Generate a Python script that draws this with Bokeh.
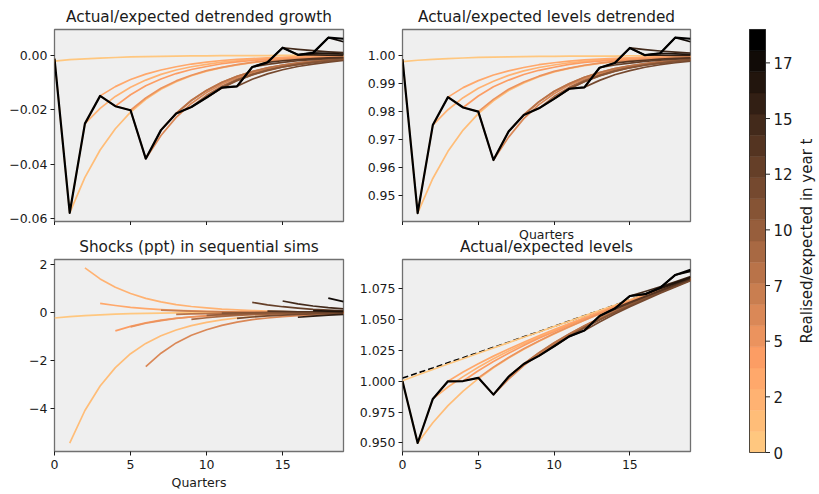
import math
from bokeh.plotting import figure
from bokeh.models import Range1d, FixedTicker, Title
from bokeh.layouts import row, column
from bokeh.embed import file_html
from bokeh.resources import INLINE
from bokeh.core.properties import value

# ---------------- data ----------------
QUARTERS = list(range(20))
X_TICKS = [0, 5, 10, 15]

# Panel 1: actual/expected detrended growth
ACTUAL_GROWTH = [-0.0012, -0.0579, -0.0251, -0.0149, -0.0187, -0.0202, -0.0380, -0.0275, -0.0214, -0.0190,
                 -0.0155, -0.0119, -0.0114, -0.0043, -0.0026, 0.0028, 0.0002, 0.0009, 0.0065, 0.0061]
GROWTH_SIMS = [
    [-0.0021, -0.0016, -0.0013, -0.0010, -0.0008, -0.0006, -0.0005, -0.0004, -0.0003, -0.0002, -0.0002, -0.0001, -0.0001, -0.0001, -0.0001, 0.0, 0.0, 0.0, 0.0, 0.0],
    [-0.0012, -0.0579, -0.0449, -0.0348, -0.0270, -0.0209, -0.0162, -0.0125, -0.0097, -0.0075, -0.0058, -0.0045, -0.0035, -0.0027, -0.0021, -0.0016, -0.0013, -0.0010, -0.0008, -0.0006],
    [-0.0579, -0.0251, -0.0195, -0.0151, -0.0117, -0.0091, -0.0070, -0.0054, -0.0042, -0.0033, -0.0025, -0.0020, -0.0015, -0.0012, -0.0009, -0.0007, -0.0005, -0.0004, -0.0003],
    [-0.0251, -0.0149, -0.0115, -0.0089, -0.0069, -0.0054, -0.0042, -0.0032, -0.0025, -0.0019, -0.0015, -0.0012, -0.0009, -0.0007, -0.0005, -0.0004, -0.0003, -0.0003],
    [-0.0149, -0.0187, -0.0145, -0.0112, -0.0087, -0.0067, -0.0052, -0.0041, -0.0031, -0.0024, -0.0019, -0.0015, -0.0011, -0.0009, -0.0007, -0.0005, -0.0004],
    [-0.0187, -0.0202, -0.0157, -0.0121, -0.0094, -0.0073, -0.0056, -0.0044, -0.0034, -0.0026, -0.0020, -0.0016, -0.0012, -0.0009, -0.0007, -0.0006],
    [-0.0202, -0.0380, -0.0295, -0.0228, -0.0177, -0.0137, -0.0106, -0.0082, -0.0064, -0.0049, -0.0038, -0.0030, -0.0023, -0.0018, -0.0014],
    [-0.0380, -0.0275, -0.0213, -0.0165, -0.0128, -0.0099, -0.0077, -0.0060, -0.0046, -0.0036, -0.0028, -0.0022, -0.0017, -0.0013],
    [-0.0275, -0.0214, -0.0166, -0.0129, -0.0100, -0.0077, -0.0060, -0.0046, -0.0036, -0.0028, -0.0022, -0.0017, -0.0013],
    [-0.0214, -0.0190, -0.0147, -0.0114, -0.0088, -0.0069, -0.0053, -0.0041, -0.0032, -0.0025, -0.0019, -0.0015],
    [-0.0190, -0.0155, -0.0120, -0.0093, -0.0072, -0.0056, -0.0043, -0.0034, -0.0026, -0.0020, -0.0016],
    [-0.0155, -0.0119, -0.0092, -0.0071, -0.0055, -0.0043, -0.0033, -0.0026, -0.0020, -0.0015],
    [-0.0119, -0.0114, -0.0088, -0.0068, -0.0053, -0.0041, -0.0032, -0.0025, -0.0019],
    [-0.0114, -0.0043, -0.0033, -0.0026, -0.0020, -0.0016, -0.0012, -0.0009],
    [-0.0043, -0.0026, -0.0020, -0.0016, -0.0012, -0.0009, -0.0007],
    [-0.0026, 0.0028, 0.0022, 0.0017, 0.0013, 0.0010],
    [0.0028, 0.0002, 0.0002, 0.0001, 0.0001],
    [0.0002, 0.0009, 0.0007, 0.0005],
    [0.0009, 0.0065, 0.0050],
]

# Panel 2: actual/expected levels detrended
ACTUAL_DETRENDED = [0.9988, 0.9437, 0.9752, 0.9852, 0.9815, 0.9800, 0.9627, 0.9729, 0.9788, 0.9812,
                    0.9846, 0.9882, 0.9887, 0.9957, 0.9974, 1.0028, 1.0002, 1.0009, 1.0065, 1.0061]
DETRENDED_SIMS = [
    [0.9979, 0.9984, 0.9987, 0.9990, 0.9992, 0.9994, 0.9995, 0.9996, 0.9997, 0.9998, 0.9998, 0.9999, 0.9999, 0.9999, 0.9999, 1.0, 1.0, 1.0, 1.0, 1.0],
    [0.9988, 0.9437, 0.9561, 0.9658, 0.9734, 0.9793, 0.9839, 0.9876, 0.9903, 0.9925, 0.9942, 0.9955, 0.9965, 0.9973, 0.9979, 0.9984, 0.9987, 0.9990, 0.9992, 0.9994],
    [0.9437, 0.9752, 0.9807, 0.9850, 0.9884, 0.9909, 0.9930, 0.9946, 0.9958, 0.9967, 0.9975, 0.9980, 0.9985, 0.9988, 0.9991, 0.9993, 0.9995, 0.9996, 0.9997],
    [0.9752, 0.9852, 0.9886, 0.9911, 0.9931, 0.9946, 0.9958, 0.9968, 0.9975, 0.9981, 0.9985, 0.9988, 0.9991, 0.9993, 0.9995, 0.9996, 0.9997, 0.9997],
    [0.9852, 0.9815, 0.9856, 0.9889, 0.9913, 0.9933, 0.9948, 0.9959, 0.9969, 0.9976, 0.9981, 0.9985, 0.9989, 0.9991, 0.9993, 0.9995, 0.9996],
    [0.9815, 0.9800, 0.9844, 0.9880, 0.9906, 0.9927, 0.9944, 0.9956, 0.9966, 0.9974, 0.9980, 0.9984, 0.9988, 0.9991, 0.9993, 0.9994],
    [0.9800, 0.9627, 0.9709, 0.9775, 0.9825, 0.9864, 0.9895, 0.9918, 0.9936, 0.9951, 0.9962, 0.9970, 0.9977, 0.9982, 0.9986],
    [0.9627, 0.9729, 0.9789, 0.9836, 0.9873, 0.9901, 0.9923, 0.9940, 0.9954, 0.9964, 0.9972, 0.9978, 0.9983, 0.9987],
    [0.9729, 0.9788, 0.9835, 0.9872, 0.9900, 0.9923, 0.9940, 0.9954, 0.9964, 0.9972, 0.9978, 0.9983, 0.9987],
    [0.9788, 0.9812, 0.9854, 0.9887, 0.9912, 0.9931, 0.9947, 0.9959, 0.9968, 0.9975, 0.9981, 0.9985],
    [0.9812, 0.9846, 0.9881, 0.9907, 0.9928, 0.9944, 0.9957, 0.9966, 0.9974, 0.9980, 0.9984],
    [0.9846, 0.9882, 0.9908, 0.9929, 0.9945, 0.9957, 0.9967, 0.9974, 0.9980, 0.9985],
    [0.9882, 0.9887, 0.9912, 0.9932, 0.9947, 0.9959, 0.9968, 0.9975, 0.9981],
    [0.9887, 0.9957, 0.9967, 0.9974, 0.9980, 0.9984, 0.9988, 0.9991],
    [0.9957, 0.9974, 0.9980, 0.9984, 0.9988, 0.9991, 0.9993],
    [0.9974, 1.0028, 1.0022, 1.0017, 1.0013, 1.0010],
    [1.0028, 1.0002, 1.0002, 1.0001, 1.0001],
    [1.0002, 1.0009, 1.0007, 1.0005],
    [1.0009, 1.0065, 1.0050],
]

# Panel 3: shocks (ppt) in sequential sims
SHOCK_SIMS = [
    [-0.23, -0.17, -0.13, -0.10, -0.07, -0.05, -0.04, -0.03, -0.02, -0.02, -0.01, -0.01, -0.01, -0.01, 0.0, 0.0, 0.0, 0.0, 0.0, 0.0],
    [-5.45, -4.09, -3.07, -2.30, -1.72, -1.29, -0.97, -0.73, -0.55, -0.41, -0.31, -0.23, -0.17, -0.13, -0.10, -0.07, -0.05, -0.04, -0.03],
    [1.86, 1.40, 1.05, 0.79, 0.59, 0.44, 0.33, 0.25, 0.19, 0.14, 0.11, 0.08, 0.06, 0.04, 0.03, 0.03, 0.02, 0.01],
    [0.38, 0.29, 0.21, 0.16, 0.12, 0.09, 0.07, 0.05, 0.04, 0.03, 0.02, 0.02, 0.01, 0.01, 0.01, 0.01, 0.0],
    [-0.77, -0.58, -0.43, -0.32, -0.24, -0.18, -0.14, -0.10, -0.08, -0.06, -0.04, -0.03, -0.02, -0.02, -0.01, -0.01],
    [-0.60, -0.45, -0.34, -0.25, -0.19, -0.14, -0.11, -0.08, -0.06, -0.05, -0.03, -0.03, -0.02, -0.01, -0.01],
    [-2.26, -1.70, -1.27, -0.95, -0.72, -0.54, -0.40, -0.30, -0.23, -0.17, -0.13, -0.10, -0.07, -0.05],
    [0.10, 0.08, 0.06, 0.04, 0.03, 0.02, 0.02, 0.01, 0.01, 0.01, 0.01, 0.0, 0.0],
    [-0.08, -0.06, -0.05, -0.03, -0.03, -0.02, -0.01, -0.01, -0.01, -0.01, 0.0, 0.0],
    [-0.29, -0.22, -0.16, -0.12, -0.09, -0.07, -0.05, -0.04, -0.03, -0.02, -0.02],
    [-0.12, -0.09, -0.07, -0.05, -0.04, -0.03, -0.02, -0.02, -0.01, -0.01],
    [-0.03, -0.02, -0.02, -0.01, -0.01, -0.01, -0.01, 0.0, 0.0],
    [-0.25, -0.19, -0.14, -0.11, -0.08, -0.06, -0.04, -0.03],
    [0.42, 0.32, 0.24, 0.18, 0.13, 0.10, 0.07],
    [0.06, 0.05, 0.03, 0.03, 0.02, 0.01],
    [0.48, 0.36, 0.27, 0.20, 0.15],
    [-0.20, -0.15, -0.11, -0.08],
    [0.08, 0.06, 0.05],
    [0.60, 0.45],
]

# Panel 4: actual/expected levels
TREND = [1.0025, 1.0066, 1.0107, 1.0149, 1.0190, 1.0232, 1.0274, 1.0316, 1.0359, 1.0401,
         1.0444, 1.0487, 1.0530, 1.0573, 1.0616, 1.0660, 1.0703, 1.0747, 1.0791, 1.0836]
ACTUAL_LEVEL = [1.0000, 0.9499, 0.9856, 0.9999, 1.0001, 1.0027, 0.9891, 1.0036, 1.0139, 1.0205,
                1.0283, 1.0363, 1.0411, 1.0528, 1.0588, 1.0690, 1.0705, 1.0757, 1.0861, 1.0902]
LEVEL_SIMS = [
    [1.0004, 1.0050, 1.0094, 1.0139, 1.0182, 1.0226, 1.0269, 1.0312, 1.0356, 1.0399, 1.0442, 1.0486, 1.0529, 1.0572, 1.0615, 1.0660, 1.0703, 1.0747, 1.0791, 1.0836],
    [1.0000, 0.9499, 0.9663, 0.9802, 0.9919, 1.0020, 1.0109, 1.0188, 1.0259, 1.0323, 1.0383, 1.0440, 1.0493, 1.0544, 1.0594, 1.0643, 1.0689, 1.0736, 1.0782, 1.0829],
    [0.9499, 0.9856, 0.9953, 1.0037, 1.0113, 1.0181, 1.0244, 1.0303, 1.0357, 1.0410, 1.0461, 1.0509, 1.0557, 1.0603, 1.0650, 1.0695, 1.0742, 1.0787, 1.0833],
    [0.9856, 0.9999, 1.0074, 1.0141, 1.0203, 1.0260, 1.0315, 1.0368, 1.0418, 1.0467, 1.0514, 1.0560, 1.0606, 1.0653, 1.0698, 1.0743, 1.0788, 1.0833],
    [0.9999, 1.0001, 1.0085, 1.0160, 1.0226, 1.0290, 1.0347, 1.0401, 1.0454, 1.0505, 1.0553, 1.0600, 1.0648, 1.0693, 1.0739, 1.0786, 1.0832],
    [1.0001, 1.0027, 1.0114, 1.0192, 1.0262, 1.0325, 1.0386, 1.0441, 1.0494, 1.0546, 1.0595, 1.0643, 1.0690, 1.0737, 1.0783, 1.0830],
    [1.0027, 0.9891, 1.0016, 1.0126, 1.0219, 1.0302, 1.0377, 1.0444, 1.0505, 1.0564, 1.0619, 1.0671, 1.0722, 1.0772, 1.0821],
    [0.9891, 1.0036, 1.0140, 1.0230, 1.0311, 1.0383, 1.0449, 1.0510, 1.0567, 1.0622, 1.0673, 1.0723, 1.0773, 1.0822],
    [1.0036, 1.0139, 1.0229, 1.0310, 1.0382, 1.0449, 1.0510, 1.0567, 1.0622, 1.0673, 1.0723, 1.0773, 1.0822],
    [1.0139, 1.0205, 1.0292, 1.0368, 1.0437, 1.0500, 1.0560, 1.0616, 1.0669, 1.0720, 1.0770, 1.0820],
    [1.0205, 1.0283, 1.0362, 1.0432, 1.0497, 1.0557, 1.0614, 1.0667, 1.0719, 1.0769, 1.0819],
    [1.0283, 1.0363, 1.0433, 1.0498, 1.0558, 1.0614, 1.0668, 1.0719, 1.0769, 1.0820],
    [1.0363, 1.0411, 1.0480, 1.0544, 1.0604, 1.0659, 1.0713, 1.0764, 1.0815],
    [1.0411, 1.0528, 1.0581, 1.0632, 1.0682, 1.0730, 1.0778, 1.0826],
    [1.0528, 1.0588, 1.0639, 1.0686, 1.0734, 1.0781, 1.0828],
    [1.0588, 1.0690, 1.0727, 1.0765, 1.0805, 1.0847],
    [1.0690, 1.0705, 1.0749, 1.0792, 1.0837],
    [1.0705, 1.0757, 1.0799, 1.0841],
    [1.0757, 1.0861, 1.0890],
]

G_TICKS = [-0.06, -0.04, -0.02, 0.0]
G_LABELS = ["\u22120.06", "\u22120.04", "\u22120.02", "0.00"]
D_TICKS = [0.95, 0.96, 0.97, 0.98, 0.99, 1.0]
D_LABELS = ["0.95", "0.96", "0.97", "0.98", "0.99", "1.00"]
S_TICKS = [-4, -2, 0, 2]
S_LABELS = ["\u22124", "\u22122", "0", "2"]
L_TICKS = [0.95, 0.975, 1.0, 1.025, 1.05, 1.075]
L_LABELS = ["0.950", "0.975", "1.000", "1.025", "1.050", "1.075"]

# copper_r, 20 bins (sim 0 .. 18, actual = 19)
PALETTE = ["#ffc77f", "#ffbd78", "#ffb272", "#ffa86b", "#fc9d64", "#eb935e", "#da8857",
           "#c97e50", "#b97349", "#a86943", "#975e3c", "#865435", "#75492f", "#653f28",
           "#543421", "#432a1b", "#321f14", "#22150d", "#110b07", "#000000"]
CBAR_MAX = 19
CBAR_TICKS = [0, 2.5, 5, 7.5, 10, 12.5, 15, 17.5]
CBAR_LABELS = ["0", "2", "5", "7", "10", "12", "15", "17"]

# ---------------- styling ----------------
FONT = "DejaVu Sans"
TXT = "#1a1a1a"
TITLE_SIZE = "15.3px"
TICK_SIZE = "12.5px"


def panel(title, width, left, top, bottom, height, yrange, yticks, ylabels, show_x):
    p = figure(width=width, height=height, x_range=Range1d(0, 19), y_range=Range1d(*yrange),
               min_border_left=left, min_border_right=10, min_border_top=top,
               min_border_bottom=bottom, output_backend="svg", toolbar_location=None)
    p.add_layout(Title(text=title, align="center", text_font=FONT, text_font_size=TITLE_SIZE,
                       text_font_style="normal", text_color=TXT, standoff=8), "above")
    p.background_fill_color = "#efefef"
    p.border_fill_color = "white"
    p.outline_line_color = "#707070"
    p.outline_line_width = 1.3
    p.xgrid.visible = False
    p.ygrid.visible = False
    for ax in (p.xaxis[0], p.yaxis[0]):
        ax.axis_line_color = None
        ax.major_tick_line_color = TXT
        ax.major_tick_line_width = 1
        ax.major_tick_out = 4
        ax.major_tick_in = 0
        ax.minor_tick_line_color = None
        ax.major_label_text_font = FONT
        ax.major_label_text_font_size = TICK_SIZE
        ax.major_label_text_color = TXT
        ax.major_label_standoff = 3
    p.xaxis.ticker = FixedTicker(ticks=X_TICKS)
    p.yaxis.ticker = FixedTicker(ticks=yticks)
    p.yaxis.major_label_overrides = dict(zip(yticks, ylabels))
    if show_x:
        p.xaxis.major_label_standoff = 4
    else:
        p.xaxis.major_label_text_font_size = "0px"
        p.xaxis.major_label_text_color = None
        p.xaxis.major_label_standoff = 0
    return p


def draw_sims(p, sims):
    n = len(QUARTERS)
    xs = [QUARTERS[n - len(s):] for s in sims]
    colors = [PALETTE[i] for i in range(len(sims))]
    p.multi_line(xs=xs, ys=sims, line_color=colors, line_width=1.7, line_join="round")


W_L, W_R = 353, 347
H_TOP, H_BOT = 225, 267

p1 = panel("Actual/expected detrended growth", W_L, 54, 29, 4, H_TOP,
           (-0.0611, 0.0095), G_TICKS, G_LABELS, False)
draw_sims(p1, GROWTH_SIMS)
p1.line(QUARTERS, ACTUAL_GROWTH, line_color="black", line_width=2.2, line_join="round")

p2 = panel("Actual/expected levels detrended", W_R, 49, 29, 4, H_TOP,
           (0.9407, 1.0094), D_TICKS, D_LABELS, False)
draw_sims(p2, DETRENDED_SIMS)
p2.line(QUARTERS, ACTUAL_DETRENDED, line_color="black", line_width=2.2, line_join="round")

p3 = panel("Shocks (ppt) in sequential sims", W_L, 54, 34, 40, H_BOT,
           (-5.8, 2.21), S_TICKS, S_LABELS, True)
p3.xaxis.axis_label = "Quarters"
p3.xaxis.axis_label_text_font = FONT
p3.xaxis.axis_label_text_font_size = TICK_SIZE
p3.xaxis.axis_label_text_font_style = "normal"
p3.xaxis.axis_label_text_color = TXT
p3.xaxis.axis_label_standoff = 3
draw_sims(p3, SHOCK_SIMS)

p4 = panel("Actual/expected levels", W_R, 49, 34, 40, H_BOT,
           (0.943, 1.0986), L_TICKS, L_LABELS, True)
# x-axis label of the panel above; it sits over this panel's title, as in the original
p4.title.text = "Quarters"
p4.title.align = "center"
p4.title.text_font = FONT
p4.title.text_font_size = TICK_SIZE
p4.title.text_font_style = "normal"
p4.title.text_color = TXT
p4.title.standoff = -21
p4.line(QUARTERS, TREND, line_color="black", line_width=1.6, line_dash="6 3")
draw_sims(p4, LEVEL_SIMS)
p4.line(QUARTERS, ACTUAL_LEVEL, line_color="black", line_width=2.2, line_join="round")

# ---------------- colour bar ----------------
cb = figure(width=119, height=H_TOP + H_BOT, x_range=Range1d(0, 74), y_range=Range1d(-0.8085, 19.404),
            min_border_left=45, min_border_right=0, min_border_top=20, min_border_bottom=22,
            x_axis_type=None, y_axis_type=None, output_backend="svg", toolbar_location=None)
cb.outline_line_color = None
cb.background_fill_color = "white"
cb.border_fill_color = "white"
step = CBAR_MAX / len(PALETTE)
cb.quad(left=4, right=20, bottom=[i * step for i in range(len(PALETTE))],
        top=[(i + 1) * step for i in range(len(PALETTE))], fill_color=PALETTE, line_color=PALETTE,
        line_width=0.5)
cb.quad(left=[4], right=[20], bottom=[0], top=[CBAR_MAX], fill_color=None, line_color="#222222",
        line_width=0.8)
cb.segment(x0=20, x1=24.5, y0=CBAR_TICKS, y1=CBAR_TICKS, line_color="#222222", line_width=1)
cb.text(x=28, y=CBAR_TICKS, text=CBAR_LABELS, text_font=value(FONT), text_font_size="15px",
        text_align="left", text_baseline="middle", text_color=TXT)
cb.text(x=[61], y=[9.5], text=["Realised/expected in year t"], angle=math.pi / 2,
        text_font=value(FONT), text_font_size="15px", text_align="center",
        text_baseline="middle", text_color=TXT)

layout = row(column(row(p1, p2), row(p3, p4)), cb)

with open("out.html", "w") as f:
    f.write(file_html(layout, INLINE))
